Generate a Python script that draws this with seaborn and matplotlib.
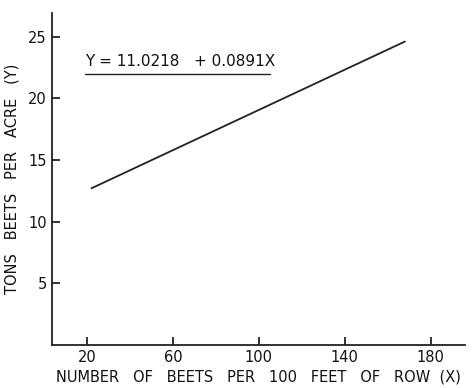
import pandas as pd
import matplotlib.pyplot as plt
import seaborn as sns

# Values (line endpoints)
beets_per_100ft = [22, 168]
tons_per_acre = [12.7, 24.6]
x_ticks = [20, 60, 100, 140, 180]
y_ticks = [5, 10, 15, 20, 25]
equation = 'Y = 11.0218   + 0.0891X'

data = pd.DataFrame({'x': beets_per_100ft, 'y': tons_per_acre})

sns.set_style('ticks')
plt.rcParams['font.family'] = ['DejaVu Sans']

fig = plt.figure(figsize=(4.74, 3.88), dpi=100)
ax = fig.add_axes([0.11, 0.111, 0.871, 0.855])

sns.lineplot(x='x', y='y', data=data, color='#222222', linewidth=1.3, ax=ax)

ax.set_xlim(3.7, 196)
ax.set_ylim(0, 26.9)
ax.set_xticks(x_ticks)
ax.set_yticks(y_ticks)
ax.tick_params(direction='in', length=6, width=1.2, colors='#111111',
               labelsize=10.5, pad=4)
for side in ['top', 'right']:
    ax.spines[side].set_visible(False)
for side in ['left', 'bottom']:
    ax.spines[side].set_linewidth(1.3)
    ax.spines[side].set_color('#222222')

ax.set_xlabel('NUMBER   OF   BEETS   PER   100   FEET   OF   ROW  (X)', fontsize=10.5,
              color='#111111', labelpad=3)
ax.set_ylabel('TONS   BEETS   PER   ACRE   (Y)', fontsize=10.5,
              color='#111111', labelpad=6)

ax.text(19, 22.35, equation, fontsize=11, color='#111111', va='bottom')
ax.plot([19, 105], [22.0, 22.0], color='#222222', linewidth=1.0)

fig.savefig('out.png', dpi=100)
